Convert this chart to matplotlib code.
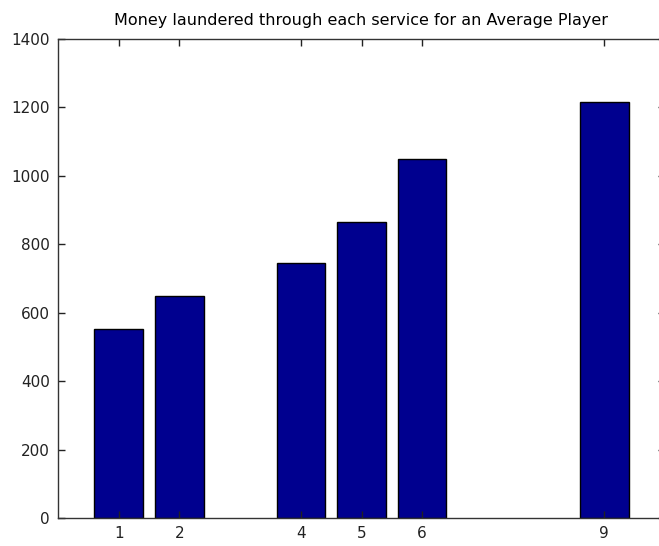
import matplotlib.pyplot as plt

# Services and the amount laundered through each one
services = [1, 2, 4, 5, 6, 9]
amounts = [552, 648, 746, 865, 1048, 1217]
yticks = [0, 200, 400, 600, 800, 1000, 1200, 1400]

fig = plt.figure(figsize=(6.59, 5.46), dpi=100)
ax = fig.add_axes([58 / 659, 28 / 546, 607 / 659, 479 / 546])

ax.bar(services, amounts, width=0.8, color="#00008F", edgecolor="black", linewidth=1)

ax.set_xlim(0, 10)
ax.set_ylim(0, 1400)
ax.set_xticks(services)
ax.set_yticks(yticks)
ax.tick_params(direction="in", top=True, right=True, length=5, width=1,
               labelsize=11, colors="#222222", pad=6)
for s in ax.spines.values():
    s.set_linewidth(1)
    s.set_color("#333333")

ax.set_title("Money laundered through each service for an Average Player",
             fontsize=11.5, pad=10)

fig.savefig("out.png", dpi=100)
